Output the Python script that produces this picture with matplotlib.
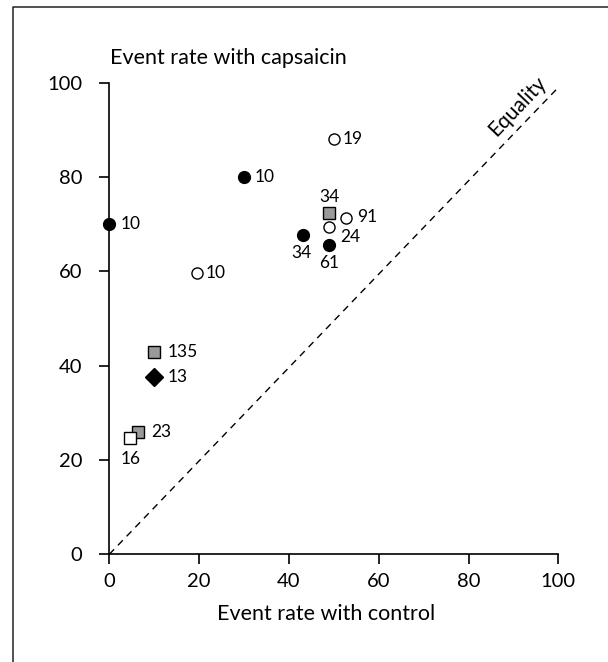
import numpy as np
import matplotlib.pyplot as plt
from matplotlib.lines import Line2D

plt.rcParams['font.family'] = ['Lato', 'DejaVu Sans']

# Event rates (%)
control = [0, 30, 50, 49, 52.7, 49, 43.2, 49, 19.5, 10, 10, 6.5, 4.7]
capsaicin = [70, 80, 88, 72.3, 71.3, 69.4, 67.6, 65.5, 59.6, 43, 37.6, 26, 24.7]
n_patients = ['10', '10', '19', '34', '91', '24', '34', '61', '10', '135', '13', '23', '16']
marker_kind = ['filled', 'filled', 'open', 'grey_sq', 'open', 'open', 'filled',
               'filled', 'open', 'grey_sq', 'diamond', 'grey_sq', 'open_sq']

styles = {
    'filled': dict(marker='o', mfc='black', mec='black'),
    'open': dict(marker='o', mfc='white', mec='black'),
    'grey_sq': dict(marker='s', mfc='#9a9a9a', mec='black'),
    'open_sq': dict(marker='s', mfc='white', mec='black'),
    'diamond': dict(marker='D', mfc='black', mec='black'),
}
sizes = {'filled': 8.5, 'open': 8, 'grey_sq': 8, 'open_sq': 8, 'diamond': 9}

# label offsets in points (dx, dy, ha)
offsets = [(8, 0, 'left'), (8, 0, 'left'), (6, 0, 'left'), (0, 12, 'center'),
           (8, 1, 'left'), (8, -7, 'left'), (-1, -12.5, 'center'), (0, -13, 'center'),
           (6, 0, 'left'), (10, 0, 'left'), (10, 0, 'left'), (9, 0, 'left'),
           (0, -15, 'center')]

fig = plt.figure(figsize=(6.08, 6.62), dpi=100)
# frame: only the left and top edges are visible in the source
fig.add_artist(Line2D([12.7 / 608, 12.7 / 608, 1.0], [0.0, 1 - 6.7 / 662, 1 - 6.7 / 662],
                      transform=fig.transFigure, color='#222222', linewidth=1.1))
ax = fig.add_axes([109.3 / 608, 1 - 554.3 / 662, 449 / 608, 471.6 / 662])

ax.plot([0, 100], [0, 99], linestyle=(0, (5, 4)), color='black', linewidth=1.0)

for x, y, n, k, (dx, dy, ha) in zip(control, capsaicin, n_patients, marker_kind, offsets):
    ax.plot(x, y, linestyle='none', markersize=sizes[k], markeredgewidth=1.0,
            clip_on=False, zorder=3, **styles[k])
    ax.annotate(n, (x, y), xytext=(dx, dy), textcoords='offset points',
                ha=ha, va='center', fontsize=12.5)

ax.text(91, 95, 'Equality', rotation=46.4, ha='center', va='center',
        fontsize=15, rotation_mode='anchor')

ax.set_xlim(0, 100)
ax.set_ylim(0, 100)
ax.set_xticks(np.arange(0, 101, 20))
ax.set_yticks(np.arange(0, 101, 20))
for s in ['top', 'right']:
    ax.spines[s].set_visible(False)
for s in ['left', 'bottom']:
    ax.spines[s].set_linewidth(1.2)
ax.tick_params(axis='both', length=7.5, width=1.2, labelsize=14.5)
ax.tick_params(axis='y', pad=12)
ax.tick_params(axis='x', pad=6)

ax.text(0.483, -0.126, 'Event rate with control', fontsize=15.5,
        transform=ax.transAxes, ha='center', va='center')
fig.text(110 / 608, 1 - 58 / 662, 'Event rate with capsaicin', fontsize=15.5,
         ha='left', va='center')

fig.savefig('out.png', dpi=100)
